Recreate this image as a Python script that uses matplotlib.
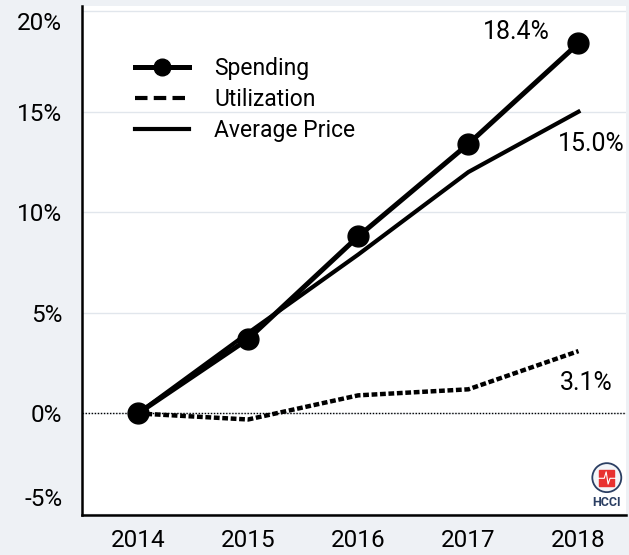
import matplotlib.pyplot as plt
from matplotlib.lines import Line2D
from matplotlib.patches import Circle, Rectangle
from matplotlib.ticker import FuncFormatter
from matplotlib.transforms import ScaledTranslation

plt.rcParams['font.family'] = ['Roboto', 'DejaVu Sans']

years = [2014, 2015, 2016, 2017, 2018]
spending = [0.0, 3.7, 8.8, 13.4, 18.4]
utilization = [0.0, -0.3, 0.9, 1.2, 3.1]
avg_price = [0.0, 4.0, 7.9, 12.0, 15.0]
yticks = [-5, 0, 5, 10, 15, 20]

bg = '#eef1f5'
fig = plt.figure(figsize=(6.29, 5.55), dpi=100, facecolor=bg)
ax = fig.add_axes([0.130, 0.072, 0.865, 0.917])
ax.set_facecolor('white')

ax.grid(axis='y', color='#e1e6ec', lw=1)
ax.axhline(0, color='black', lw=1.0, ls=(0, (1, 1.2)), zorder=2)

ax.plot(years, avg_price, color='black', lw=3, zorder=3)
ax.plot(years, utilization, color='black', lw=3.2, ls=(0, (1.3, 0.6)), zorder=3)
ax.plot(years, spending, color='black', lw=3.6, marker='o', ms=15, zorder=4)

# end labels
ax.annotate(f'{spending[-1]}%', (years[-1], spending[-1]), xytext=(-44.6, 8),
            textcoords='offset points', fontsize=18, ha='center', va='center')
ax.annotate(f'{avg_price[-1]}%', (years[-1], avg_price[-1]), xytext=(9.4, -23),
            textcoords='offset points', fontsize=18, ha='center', va='center')
ax.annotate(f'{utilization[-1]}%', (years[-1], utilization[-1]), xytext=(5.8, -23),
            textcoords='offset points', fontsize=18, ha='center', va='center')

ax.set_xlim(2013.49, 2018.43)
ax.set_ylim(-5.05, 20.25)
ax.set_xticks(years)
ax.set_yticks(yticks)
ax.yaxis.set_major_formatter(FuncFormatter(lambda v, p: f'{v:.0f}%'))
ax.tick_params(length=0, labelsize=17.5, colors='black')
ax.tick_params(axis='y', pad=14)
ax.tick_params(axis='x', pad=10)

# end tick labels sit inside the axis range in the original
lbls = ax.get_yticklabels()
lbls[0].set_transform(lbls[0].get_transform() + ScaledTranslation(0, 12.2 / 72, fig.dpi_scale_trans))
lbls[-1].set_transform(lbls[-1].get_transform() + ScaledTranslation(0, -6.8 / 72, fig.dpi_scale_trans))

for side in ['top', 'right']:
    ax.spines[side].set_visible(False)
for side in ['left', 'bottom']:
    ax.spines[side].set_linewidth(1.8)
    ax.spines[side].set_color('black')

handles = [
    Line2D([], [], color='black', lw=3.6, marker='o', ms=12, markevery=[0, -1]),
    Line2D([], [], color='black', lw=3, ls=(0, (3, 1.5))),
    Line2D([], [], color='black', lw=3),
]
ax.legend(handles, ['Spending', 'Utilization', 'Average Price'], loc='upper left',
          bbox_to_anchor=(0.06, 0.94), frameon=False, fontsize=16.5, handlelength=2.35,
          handletextpad=1.1, labelspacing=0.35)

# HCCI logo
logo = ax.inset_axes([0.935, 0.002, 0.06, 0.105])
logo.set_xlim(0, 1)
logo.set_ylim(0, 1.66)
logo.set_aspect('equal')
logo.axis('off')
logo.add_patch(Circle((0.5, 1.13), 0.45, facecolor='#f3f5f8', edgecolor='#2b3f63', lw=1.3))
logo.add_patch(Rectangle((0.27, 0.86), 0.46, 0.52, color='#e8312f'))
logo.plot([0.22, 0.42, 0.48, 0.54, 0.6, 0.78], [1.11, 1.11, 1.31, 0.93, 1.11, 1.11], color='white', lw=0.8)
logo.text(0.5, 0.36, 'HCCI', ha='center', va='center', fontsize=9, fontweight='bold', color='#2b3f63')

fig.savefig('out.png', dpi=100, facecolor=bg)
